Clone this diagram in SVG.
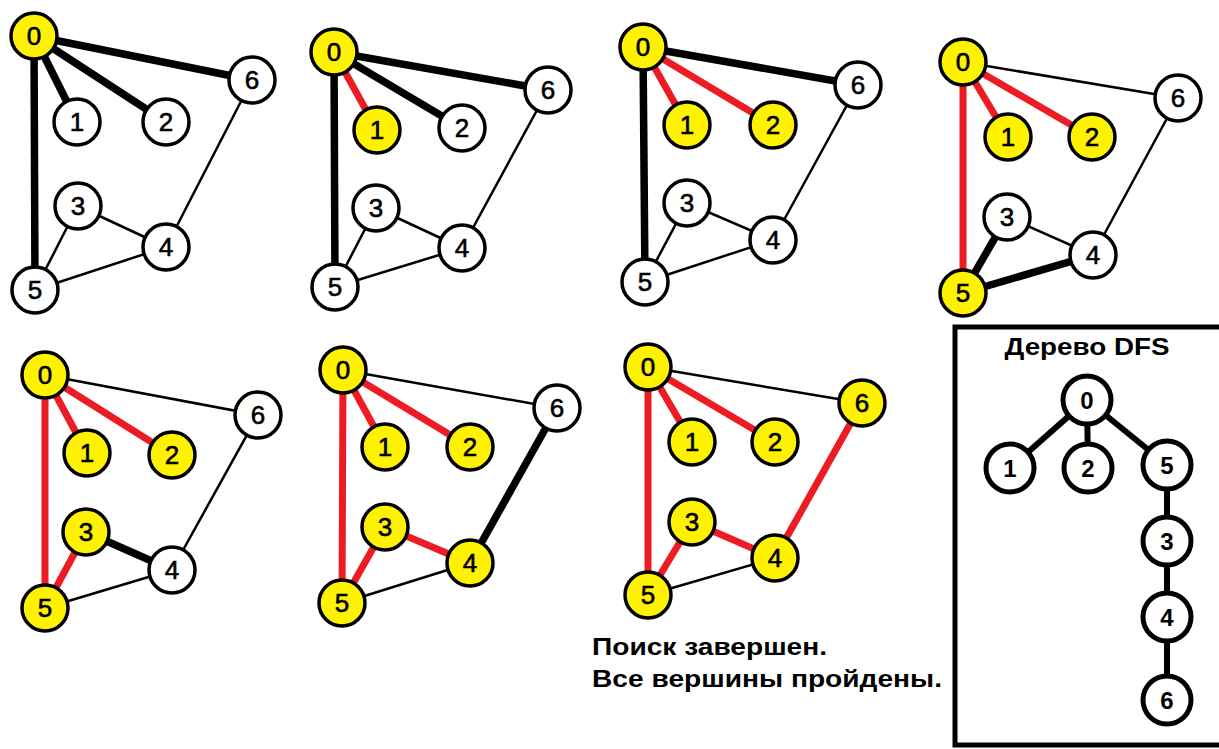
<svg xmlns="http://www.w3.org/2000/svg" width="1219" height="749" viewBox="0 0 1219 749">
  <style>
    .n { fill: #ffffff; stroke: #000000; stroke-width: 3.5; }
    .v { fill: #fff200; stroke: #000000; stroke-width: 3.5; }
    .lbl { font-family: "Liberation Sans", Arial, sans-serif; font-size: 26px; fill: #000000; stroke: #000000; stroke-width: 0.6; text-anchor: middle; }
    .thin { stroke: #000000; stroke-width: 2.5; stroke-linecap: round; }
    .thick { stroke: #000000; stroke-width: 7.5; stroke-linecap: butt; }
    .red { stroke: #ed1c24; stroke-width: 7; stroke-linecap: butt; }
    .tn { fill: #ffffff; stroke: #000000; stroke-width: 5; }
    .tl { font-family: "Liberation Sans", Arial, sans-serif; font-size: 24px; font-weight: bold; fill: #000000; text-anchor: middle; }
    .te { stroke: #000000; stroke-width: 6; }
    .cap { font-family: "Liberation Sans", Arial, sans-serif; font-size: 23px; font-weight: bold; fill: #000000; }
  </style>
  <rect width="1219" height="749" fill="#ffffff"/>

  <!-- Step 1: start at 0 -->
  <g id="step1">
    <g id="step1-edges">
      <line class="thin" x1="252" y1="80" x2="166" y2="247"/>
      <line class="thin" x1="78" y1="206" x2="166" y2="247"/>
      <line class="thin" x1="78" y1="206" x2="35" y2="290"/>
      <line class="thin" x1="35" y1="290" x2="166" y2="247"/>
      <line class="thick" x1="34" y1="36" x2="77" y2="122"/>
      <line class="thick" x1="34" y1="36" x2="166" y2="122"/>
      <line class="thick" x1="34" y1="36" x2="252" y2="80"/>
      <line class="thick" x1="34" y1="36" x2="35" y2="290"/>
    </g>
    <g id="s1-n0"><circle class="v" cx="34" cy="36" r="23"/><text class="lbl" x="34" y="45">0</text></g>
    <g id="s1-n1"><circle class="n" cx="77" cy="122" r="23"/><text class="lbl" x="77" y="131">1</text></g>
    <g id="s1-n2"><circle class="n" cx="166" cy="122" r="23"/><text class="lbl" x="166" y="131">2</text></g>
    <g id="s1-n6"><circle class="n" cx="252" cy="80" r="23"/><text class="lbl" x="252" y="89">6</text></g>
    <g id="s1-n3"><circle class="n" cx="78" cy="206" r="23"/><text class="lbl" x="78" y="215">3</text></g>
    <g id="s1-n4"><circle class="n" cx="166" cy="247" r="23"/><text class="lbl" x="166" y="256">4</text></g>
    <g id="s1-n5"><circle class="n" cx="35" cy="290" r="23"/><text class="lbl" x="35" y="299">5</text></g>
  </g>

  <!-- Step 2: visit 1 -->
  <g id="step2">
    <g id="step2-edges">
      <line class="thin" x1="548" y1="90" x2="462" y2="248"/>
      <line class="thin" x1="376" y1="208" x2="462" y2="248"/>
      <line class="thin" x1="376" y1="208" x2="335" y2="287"/>
      <line class="thin" x1="335" y1="287" x2="462" y2="248"/>
      <line class="red" x1="334" y1="52" x2="377" y2="130"/>
      <line class="thick" x1="334" y1="52" x2="462" y2="128"/>
      <line class="thick" x1="334" y1="52" x2="548" y2="90"/>
      <line class="thick" x1="334" y1="52" x2="335" y2="287"/>
    </g>
    <g id="s2-n0"><circle class="v" cx="334" cy="52" r="23"/><text class="lbl" x="334" y="61">0</text></g>
    <g id="s2-n1"><circle class="v" cx="377" cy="130" r="23"/><text class="lbl" x="377" y="139">1</text></g>
    <g id="s2-n2"><circle class="n" cx="462" cy="128" r="23"/><text class="lbl" x="462" y="137">2</text></g>
    <g id="s2-n6"><circle class="n" cx="548" cy="90" r="23"/><text class="lbl" x="548" y="99">6</text></g>
    <g id="s2-n3"><circle class="n" cx="376" cy="208" r="23"/><text class="lbl" x="376" y="217">3</text></g>
    <g id="s2-n4"><circle class="n" cx="462" cy="248" r="23"/><text class="lbl" x="462" y="257">4</text></g>
    <g id="s2-n5"><circle class="n" cx="335" cy="287" r="23"/><text class="lbl" x="335" y="296">5</text></g>
  </g>

  <!-- Step 3: visit 2 -->
  <g id="step3">
    <g id="step3-edges">
      <line class="thin" x1="858" y1="85" x2="773" y2="240"/>
      <line class="thin" x1="687" y1="203" x2="773" y2="240"/>
      <line class="thin" x1="687" y1="203" x2="645" y2="282"/>
      <line class="thin" x1="645" y1="282" x2="773" y2="240"/>
      <line class="red" x1="643" y1="47" x2="687" y2="125"/>
      <line class="red" x1="643" y1="47" x2="773" y2="125"/>
      <line class="thick" x1="643" y1="47" x2="858" y2="85"/>
      <line class="thick" x1="643" y1="47" x2="645" y2="282"/>
    </g>
    <g id="s3-n0"><circle class="v" cx="643" cy="47" r="23"/><text class="lbl" x="643" y="56">0</text></g>
    <g id="s3-n1"><circle class="v" cx="687" cy="125" r="23"/><text class="lbl" x="687" y="134">1</text></g>
    <g id="s3-n2"><circle class="v" cx="773" cy="125" r="23"/><text class="lbl" x="773" y="134">2</text></g>
    <g id="s3-n6"><circle class="n" cx="858" cy="85" r="23"/><text class="lbl" x="858" y="94">6</text></g>
    <g id="s3-n3"><circle class="n" cx="687" cy="203" r="23"/><text class="lbl" x="687" y="212">3</text></g>
    <g id="s3-n4"><circle class="n" cx="773" cy="240" r="23"/><text class="lbl" x="773" y="249">4</text></g>
    <g id="s3-n5"><circle class="n" cx="645" cy="282" r="23"/><text class="lbl" x="645" y="291">5</text></g>
  </g>

  <!-- Step 4: visit 5 -->
  <g id="step4">
    <g id="step4-edges">
      <line class="thin" x1="963" y1="62" x2="1178" y2="98"/>
      <line class="thin" x1="1178" y1="98" x2="1093" y2="255"/>
      <line class="thin" x1="1007" y1="217" x2="1093" y2="255"/>
      <line class="red" x1="963" y1="62" x2="1008" y2="137"/>
      <line class="red" x1="963" y1="62" x2="1092" y2="137"/>
      <line class="red" x1="963" y1="62" x2="963" y2="293"/>
      <line class="thick" x1="963" y1="293" x2="1007" y2="217"/>
      <line class="thick" x1="963" y1="293" x2="1093" y2="255"/>
    </g>
    <g id="s4-n0"><circle class="v" cx="963" cy="62" r="23"/><text class="lbl" x="963" y="71">0</text></g>
    <g id="s4-n1"><circle class="v" cx="1008" cy="137" r="23"/><text class="lbl" x="1008" y="146">1</text></g>
    <g id="s4-n2"><circle class="v" cx="1092" cy="137" r="23"/><text class="lbl" x="1092" y="146">2</text></g>
    <g id="s4-n6"><circle class="n" cx="1178" cy="98" r="23"/><text class="lbl" x="1178" y="107">6</text></g>
    <g id="s4-n3"><circle class="n" cx="1007" cy="217" r="23"/><text class="lbl" x="1007" y="226">3</text></g>
    <g id="s4-n4"><circle class="n" cx="1093" cy="255" r="23"/><text class="lbl" x="1093" y="264">4</text></g>
    <g id="s4-n5"><circle class="v" cx="963" cy="293" r="23"/><text class="lbl" x="963" y="302">5</text></g>
  </g>

  <!-- Step 5: visit 3 -->
  <g id="step5">
    <g id="step5-edges">
      <line class="thin" x1="45" y1="375" x2="258" y2="415"/>
      <line class="thin" x1="258" y1="415" x2="172" y2="570"/>
      <line class="thin" x1="45" y1="608" x2="172" y2="570"/>
      <line class="red" x1="45" y1="375" x2="87" y2="453"/>
      <line class="red" x1="45" y1="375" x2="172" y2="455"/>
      <line class="red" x1="45" y1="375" x2="45" y2="608"/>
      <line class="red" x1="45" y1="608" x2="86" y2="532"/>
      <line class="thick" x1="86" y1="532" x2="172" y2="570"/>
    </g>
    <g id="s5-n0"><circle class="v" cx="45" cy="375" r="23"/><text class="lbl" x="45" y="384">0</text></g>
    <g id="s5-n1"><circle class="v" cx="87" cy="453" r="23"/><text class="lbl" x="87" y="462">1</text></g>
    <g id="s5-n2"><circle class="v" cx="172" cy="455" r="23"/><text class="lbl" x="172" y="464">2</text></g>
    <g id="s5-n6"><circle class="n" cx="258" cy="415" r="23"/><text class="lbl" x="258" y="424">6</text></g>
    <g id="s5-n3"><circle class="v" cx="86" cy="532" r="23"/><text class="lbl" x="86" y="541">3</text></g>
    <g id="s5-n4"><circle class="n" cx="172" cy="570" r="23"/><text class="lbl" x="172" y="579">4</text></g>
    <g id="s5-n5"><circle class="v" cx="45" cy="608" r="23"/><text class="lbl" x="45" y="617">5</text></g>
  </g>

  <!-- Step 6: visit 4 -->
  <g id="step6">
    <g id="step6-edges">
      <line class="thin" x1="343" y1="370" x2="557" y2="408"/>
      <line class="thin" x1="342" y1="603" x2="470" y2="563"/>
      <line class="red" x1="343" y1="370" x2="385" y2="447"/>
      <line class="red" x1="343" y1="370" x2="470" y2="447"/>
      <line class="red" x1="343" y1="370" x2="342" y2="603"/>
      <line class="red" x1="342" y1="603" x2="385" y2="527"/>
      <line class="red" x1="385" y1="527" x2="470" y2="563"/>
      <line class="thick" x1="470" y1="563" x2="557" y2="408"/>
    </g>
    <g id="s6-n0"><circle class="v" cx="343" cy="370" r="23"/><text class="lbl" x="343" y="379">0</text></g>
    <g id="s6-n1"><circle class="v" cx="385" cy="447" r="23"/><text class="lbl" x="385" y="456">1</text></g>
    <g id="s6-n2"><circle class="v" cx="470" cy="447" r="23"/><text class="lbl" x="470" y="456">2</text></g>
    <g id="s6-n6"><circle class="n" cx="557" cy="408" r="23"/><text class="lbl" x="557" y="417">6</text></g>
    <g id="s6-n3"><circle class="v" cx="385" cy="527" r="23"/><text class="lbl" x="385" y="536">3</text></g>
    <g id="s6-n4"><circle class="v" cx="470" cy="563" r="23"/><text class="lbl" x="470" y="572">4</text></g>
    <g id="s6-n5"><circle class="v" cx="342" cy="603" r="23"/><text class="lbl" x="342" y="612">5</text></g>
  </g>

  <!-- Step 7: visit 6, search finished -->
  <g id="step7">
    <g id="step7-edges">
      <line class="thin" x1="648" y1="367" x2="862" y2="403"/>
      <line class="thin" x1="648" y1="595" x2="775" y2="558"/>
      <line class="red" x1="648" y1="367" x2="692" y2="442"/>
      <line class="red" x1="648" y1="367" x2="775" y2="442"/>
      <line class="red" x1="648" y1="367" x2="648" y2="595"/>
      <line class="red" x1="648" y1="595" x2="692" y2="522"/>
      <line class="red" x1="692" y1="522" x2="775" y2="558"/>
      <line class="red" x1="775" y1="558" x2="862" y2="403"/>
    </g>
    <g id="s7-n0"><circle class="v" cx="648" cy="367" r="23"/><text class="lbl" x="648" y="376">0</text></g>
    <g id="s7-n1"><circle class="v" cx="692" cy="442" r="23"/><text class="lbl" x="692" y="451">1</text></g>
    <g id="s7-n2"><circle class="v" cx="775" cy="442" r="23"/><text class="lbl" x="775" y="451">2</text></g>
    <g id="s7-n6"><circle class="v" cx="862" cy="403" r="23"/><text class="lbl" x="862" y="412">6</text></g>
    <g id="s7-n3"><circle class="v" cx="692" cy="522" r="23"/><text class="lbl" x="692" y="531">3</text></g>
    <g id="s7-n4"><circle class="v" cx="775" cy="558" r="23"/><text class="lbl" x="775" y="567">4</text></g>
    <g id="s7-n5"><circle class="v" cx="648" cy="595" r="23"/><text class="lbl" x="648" y="604">5</text></g>
  </g>

  <g id="status">
    <text class="cap" x="592" y="655" textLength="235" lengthAdjust="spacingAndGlyphs">Поиск завершен.</text>
    <text class="cap" x="592" y="687" textLength="350" lengthAdjust="spacingAndGlyphs">Все вершины пройдены.</text>
  </g>

  <!-- Resulting DFS tree -->
  <g id="tree">
    <rect x="955" y="327" width="300" height="418" fill="none" stroke="#000000" stroke-width="5"/>
    <text class="cap" x="1087" y="355" text-anchor="middle" font-size="23" textLength="165" lengthAdjust="spacingAndGlyphs">Дерево DFS</text>
    <g id="tree-edges">
      <line class="te" x1="1087" y1="400" x2="1010" y2="468"/>
      <line class="te" x1="1087" y1="400" x2="1088" y2="468"/>
      <line class="te" x1="1087" y1="400" x2="1167" y2="465"/>
      <line class="te" x1="1167" y1="465" x2="1167" y2="541"/>
      <line class="te" x1="1167" y1="541" x2="1167" y2="617"/>
      <line class="te" x1="1167" y1="617" x2="1167" y2="700"/>
    </g>
    <g id="t-n0"><circle class="tn" cx="1087" cy="400" r="24"/><text class="tl" x="1087" y="409">0</text></g>
    <g id="t-n1"><circle class="tn" cx="1010" cy="468" r="24"/><text class="tl" x="1010" y="477">1</text></g>
    <g id="t-n2"><circle class="tn" cx="1088" cy="468" r="24"/><text class="tl" x="1088" y="477">2</text></g>
    <g id="t-n5"><circle class="tn" cx="1167" cy="465" r="24"/><text class="tl" x="1167" y="474">5</text></g>
    <g id="t-n3"><circle class="tn" cx="1167" cy="541" r="24"/><text class="tl" x="1167" y="550">3</text></g>
    <g id="t-n4"><circle class="tn" cx="1167" cy="617" r="24"/><text class="tl" x="1167" y="626">4</text></g>
    <g id="t-n6"><circle class="tn" cx="1167" cy="700" r="24"/><text class="tl" x="1167" y="709">6</text></g>
  </g>
</svg>
